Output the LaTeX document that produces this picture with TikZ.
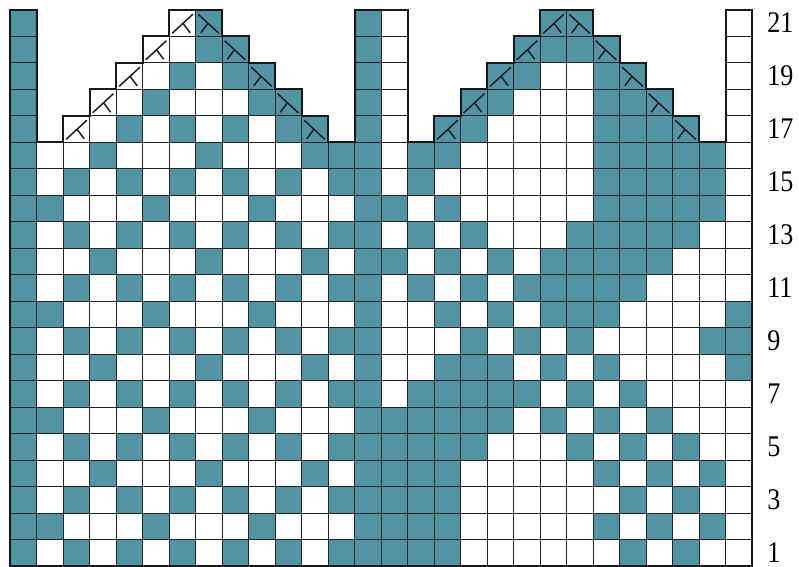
\documentclass[tikz,border=0pt]{standalone}
\usepackage{fontspec}
\setmainfont{Liberation Serif}
\usepackage{graphicx}
\definecolor{chartteal}{RGB}{82,148,166}
\definecolor{gridc}{RGB}{35,35,35}
\definecolor{symc}{RGB}{30,30,30}
\begin{document}
\begin{tikzpicture}[x=26.5pt,y=26.5pt,
  cellw/.style={fill=white,draw=gridc,line width=1pt},
  cellt/.style={fill=chartteal,draw=gridc,line width=1pt},
  outline/.style={draw=black!90,line width=2pt,line join=miter},
  sym/.style={draw=symc,line width=1.5pt},
  lbl/.style={anchor=west,inner sep=0pt,font=\fontsize{30}{30}\selectfont}]
\useasboundingbox (-0.3774,-0.0189) rectangle (29.7736,21.3774);
% white cells
\foreach \c/\t in {1/21,2/16,3/17,4/18,5/19,6/20,7/21,8/21,9/20,10/19,11/18,12/17,13/16,14/21,
                   15/21,16/16,17/17,18/18,19/19,20/20,21/21,22/21,23/20,24/19,25/18,26/17,27/16,28/21}{
  \foreach \r in {1,...,\t}{
    \path[cellw] (\c-1,\r-1) rectangle ++(1,1);
  }
}
% teal cells
\foreach \r/\cols in {
  1/{1,3,5,7,9,11,13,14,15,16,17,24,26},
  2/{1,2,6,10,14,15,16,17,23,25,27},
  3/{1,3,5,7,9,11,13,14,15,16,17,24,26},
  4/{1,4,8,12,14,15,16,17,23,25,27},
  5/{1,3,5,7,9,11,13,14,15,16,17,18,22,24,26},
  6/{1,2,6,10,14,15,16,17,18,19,21,23,25},
  7/{1,3,5,7,9,11,13,14,16,17,18,19,20,22,24},
  8/{1,4,8,12,14,17,18,19,21,23,28},
  9/{1,3,5,7,9,11,13,14,18,20,22,27,28},
  10/{1,2,6,10,14,17,19,21,22,23,28},
  11/{1,3,5,7,9,11,13,14,16,18,20,21,22,23,24},
  12/{1,4,8,12,14,15,17,19,21,22,23,24,25},
  13/{1,3,5,7,9,11,13,14,16,18,22,23,24,25,26},
  14/{1,2,6,10,14,15,17,23,24,25,26,27},
  15/{1,3,5,7,9,11,13,14,16,23,24,25,26,27},
  16/{1,4,8,12,13,14,16,17,23,24,25,26,27},
  17/{1,5,7,9,11,12,14,17,18,23,24,25,26},
  18/{1,6,10,11,14,18,19,23,24,25},
  19/{1,7,9,10,14,19,20,23,24},
  20/{1,8,9,14,20,21,22,23},
  21/{1,8,14,21,22}}{
  \foreach \c in \cols{
    \path[cellt] (\c-1,\r-1) rectangle ++(1,1);
  }
}
% outline
\draw[outline] (0,0) -- (28,0) -- (28,21) -- (27,21) -- (27,16) -- (26,16) -- (26,17) -- (25,17)
  -- (25,18) -- (24,18) -- (24,19) -- (23,19) -- (23,20) -- (22,20) -- (22,21) -- (20,21)
  -- (20,20) -- (19,20) -- (19,19) -- (18,19) -- (18,18) -- (17,18) -- (17,17) -- (16,17)
  -- (16,16) -- (15,16) -- (15,21) -- (13,21) -- (13,16) -- (12,16) -- (12,17) -- (11,17)
  -- (11,18) -- (10,18) -- (10,19) -- (9,19) -- (9,20) -- (8,20) -- (8,21) -- (6,21)
  -- (6,20) -- (5,20) -- (5,19) -- (4,19) -- (4,18) -- (3,18) -- (3,17) -- (2,17)
  -- (2,16) -- (1,16) -- (1,21) -- (0,21) -- cycle;
% decrease symbols (left leaning)
\foreach \c/\r in {3/17,4/18,5/19,6/20,7/21,17/17,18/18,19/19,20/20,21/21}{
  \draw[sym] (\c-0.1,\r-0.16) -- (\c-0.88,\r-0.88);
  \draw[sym] (\c-0.47,\r-0.5) -- (\c-0.2,\r-0.86);
}
% decrease symbols (right leaning)
\foreach \c/\r in {8/21,9/20,10/19,11/18,12/17,22/21,23/20,24/19,25/18,26/17}{
  \draw[sym] (\c-0.9,\r-0.16) -- (\c-0.12,\r-0.88);
  \draw[sym] (\c-0.53,\r-0.5) -- (\c-0.8,\r-0.86);
}
% row labels
\foreach \n in {1,3,...,21}{
  \node[lbl] (lab\n) at (28.57,\n-0.48) {\scalebox{0.87}[1]{\n}};
}
\end{tikzpicture}
\end{document}
